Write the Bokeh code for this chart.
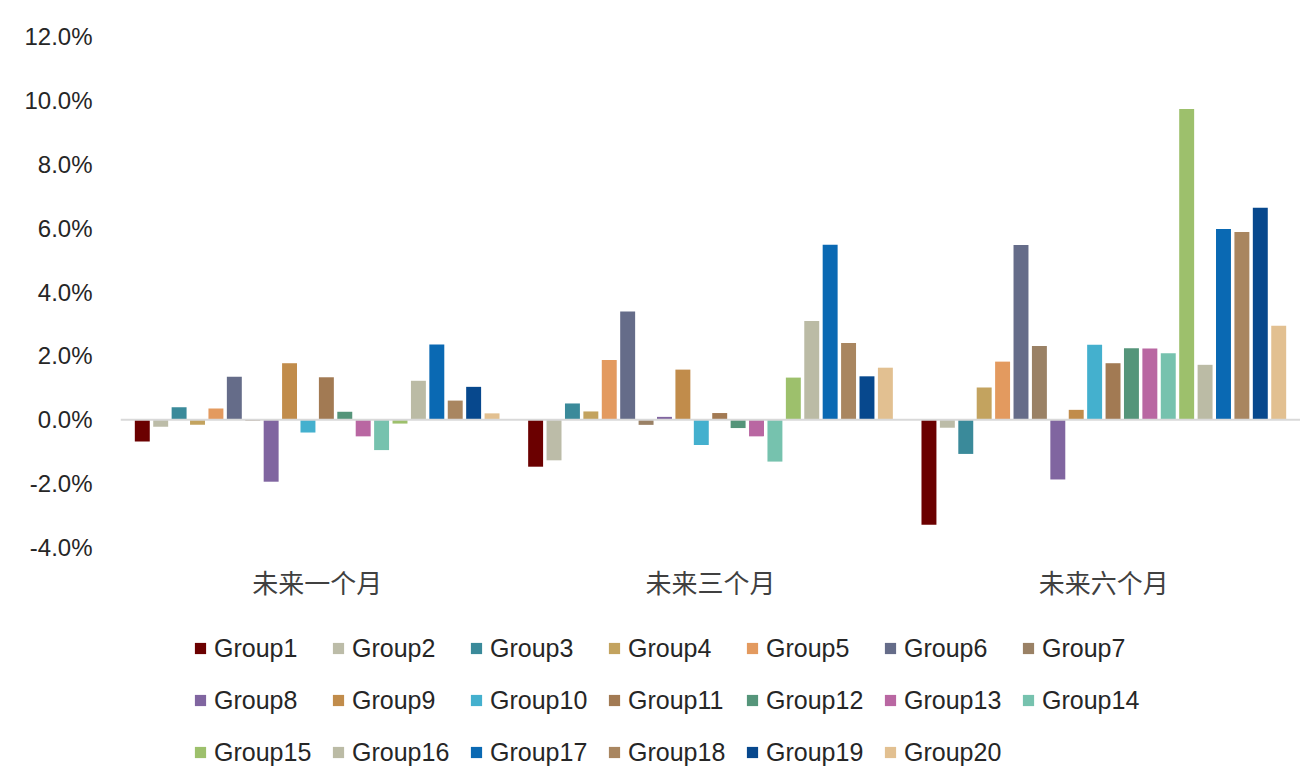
from bokeh.plotting import figure
from bokeh.layouts import column
from bokeh.models import (FactorRange, Range1d, FixedTicker, PrintfTickFormatter,
                          Span, Legend, LegendItem, ColumnDataSource)
from bokeh.transform import dodge
from bokeh.embed import file_html
from bokeh.resources import INLINE

categories = ["未来一个月", "未来三个月", "未来六个月"]
groups = [f"Group{i}" for i in range(1, 21)]
colors = ["#6B0000", "#BCBCA8", "#3A8A9A", "#C3A35F", "#E39A5F", "#656C89", "#9A8165",
          "#8065A0", "#C18C4B", "#44B0CE", "#A27A53", "#55957A", "#B967A2", "#76C2AE",
          "#9DC06C", "#BBBBA5", "#0A69B3", "#A98660", "#07488D", "#E2C091"]

# values in percent, one list per category (Group1..Group20)
month1 = [-0.68, -0.22, 0.39, -0.16, 0.35, 1.35, -0.03, -1.94, 1.77, -0.40,
          1.33, 0.25, -0.52, -0.95, -0.12, 1.22, 2.36, 0.60, 1.03, 0.20]
month3 = [-1.47, -1.27, 0.51, 0.26, 1.87, 3.39, -0.16, 0.09, 1.57, -0.79,
          0.21, -0.26, -0.52, -1.31, 1.32, 3.09, 5.48, 2.40, 1.36, 1.63]
month6 = [-3.29, -0.25, -1.07, 1.01, 1.82, 5.47, 2.31, -1.87, 0.31, 2.35,
          1.77, 2.24, 2.23, 2.08, 9.73, 1.72, 5.97, 5.88, 6.64, 2.94]

y_ticks = [-4, -2, 0, 2, 4, 6, 8, 10, 12]

data = {"cat": categories}
for gi, g in enumerate(groups):
    data[g] = [month1[gi], month3[gi], month6[gi]]
source = ColumnDataSource(data)

p = figure(x_range=FactorRange(*categories), y_range=Range1d(-4, 12),
           frame_width=1180, frame_height=511, output_backend="svg", toolbar_location=None,
           min_border_left=120, min_border_right=0, min_border_top=36,
           min_border_bottom=60)
p.outline_line_color = None
p.xgrid.grid_line_color = None
p.ygrid.grid_line_color = None
p.background_fill_color = "white"

zero = Span(location=0, dimension="width", line_color="#D9D9D9", line_width=2)
p.add_layout(zero)

pitch = 0.0468
for gi, g in enumerate(groups):
    off = (gi - 9.5) * pitch
    p.vbar(x=dodge("cat", off, range=p.x_range), top=g, bottom=0, width=0.038,
           source=source, fill_color=colors[gi], line_color=None)

p.yaxis.ticker = FixedTicker(ticks=y_ticks)
p.yaxis.formatter = PrintfTickFormatter(format="%.1f%%")
p.yaxis.axis_line_color = None
p.yaxis.major_tick_line_color = None
p.yaxis.minor_tick_line_color = None
p.yaxis.major_label_standoff = 22
p.yaxis.major_label_text_font = "Liberation Sans"
p.yaxis.major_label_text_font_size = "24px"
p.yaxis.major_label_text_color = "#262626"

p.xaxis.axis_line_color = None
p.xaxis.major_tick_line_color = None
p.xaxis.minor_tick_line_color = None
p.xaxis.major_label_standoff = 9
p.xaxis.major_label_text_font = "Noto Sans CJK SC"
p.xaxis.major_label_text_font_size = "26px"
p.xaxis.major_label_text_color = "#404040"

# legend strip below the chart: same series as hidden renderers, only the keys show
lf = figure(width=1300, height=165, x_range=p.x_range, y_range=Range1d(-200, -199),
            output_backend="svg", toolbar_location=None,
            min_border_left=0, min_border_right=0, min_border_top=0, min_border_bottom=0)
lf.axis.visible = False
lf.grid.visible = False
lf.outline_line_color = None
items = []
for gi, g in enumerate(groups):
    off = (gi - 9.5) * pitch
    r = lf.vbar(x=dodge("cat", off, range=p.x_range), top=g, bottom=0, width=0.038,
                source=source, fill_color=colors[gi], line_color=None)
    r.visible = False
    items.append(LegendItem(label=g, renderers=[r]))

legend = Legend(items=items, orientation="horizontal", ncols=7, location=(73, 2),
                glyph_width=14, glyph_height=14, label_standoff=7, label_width=101,
                label_height=36, spacing=16, padding=0, margin=0,
                label_text_font="Liberation Sans", label_text_font_size="25px",
                label_text_color="#262626", border_line_color=None,
                background_fill_alpha=0, inactive_fill_alpha=0)
lf.add_layout(legend, "center")

layout = column(p, lf, spacing=0)
open("out.html", "w").write(file_html(layout, INLINE))
